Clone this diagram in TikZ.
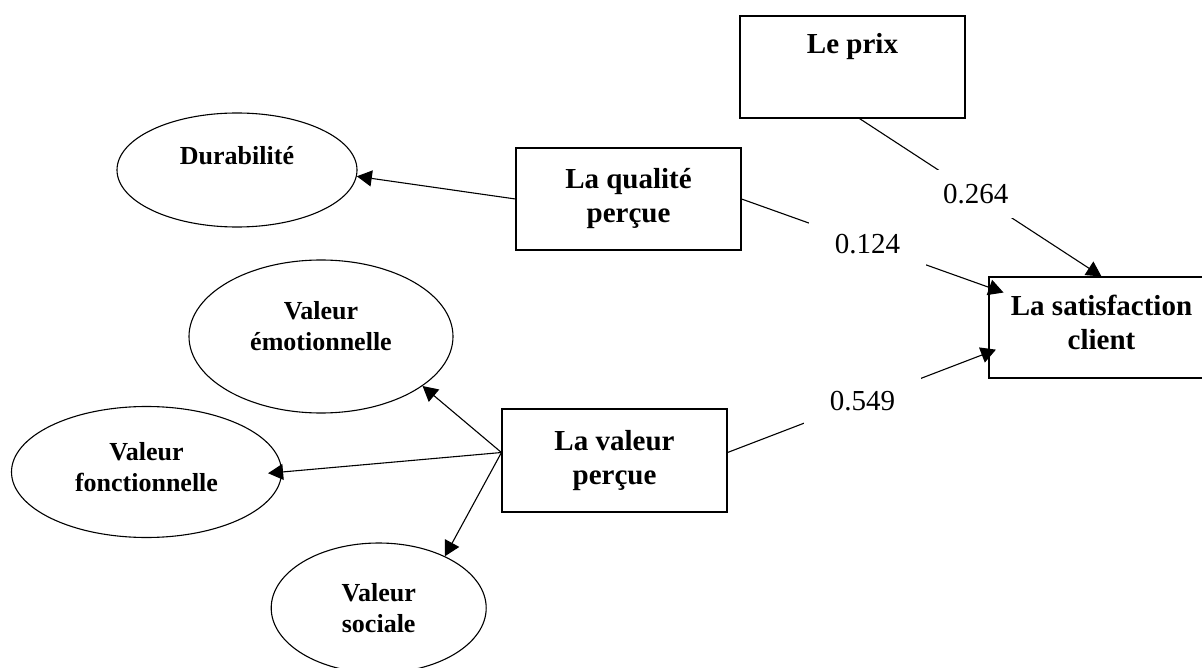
\documentclass[tikz,border=0pt]{standalone}
\usepackage{fontspec}
\setmainfont{Liberation Serif}
\usetikzlibrary{arrows.meta,shapes.geometric}

\begin{document}
\begin{tikzpicture}[x=1pt,y=-1pt,>={Triangle[length=15pt,width=16pt]},line width=1.1pt,
    box/.style={draw,rectangle,minimum width=225pt,minimum height=102pt,align=center,
      font=\bfseries\fontsize{29}{34}\selectfont},
    oval/.style={draw,ellipse,inner sep=0pt,align=center,
      font=\bfseries\fontsize{26}{31}\selectfont},
    weight/.style={fill=white,inner xsep=26pt,inner ysep=14pt,
      font=\fontsize{29}{34}\selectfont}]
      \useasboundingbox (0,0) rectangle (1202,668);
      \clip (0,0) rectangle (1202,668);

      \node[box,text height=20pt,text depth=46pt] (prix) at (852.5,67) {Le prix};
      \node[box] (qual) at (628.5,199) {La qualité\\perçue};
      \node[box,minimum height=103pt] (val) at (614.5,460.5) {La valeur\\perçue};
      \node[box,minimum height=101pt,text depth=10pt] (sat) at (1101.5,327.5) {La satisfaction\\client};

      \node[oval,minimum width=240pt,minimum height=114pt,text height=18pt,text depth=28pt] (dur) at (237,170) {Durabilité};
      \node[oval,minimum width=264pt,minimum height=153pt,text depth=22pt] (emo) at (321,336.5) {Valeur\\émotionnelle};
      \node[oval,minimum width=270pt,minimum height=131pt,text depth=10pt] (fon) at (146.5,472) {Valeur\\fonctionnelle};
      \node[oval,minimum width=215pt,minimum height=130pt] (soc) at (378.7,608) {Valeur\\sociale};

      \coordinate (hub) at ([yshift=8pt]val.west);

      \path[->]
      (qual.west) edge (dur.-3)

      (hub) edge (emo.-26)
      (hub) edge [shorten >=-14pt] (fon.east)
      (hub) edge (soc.38)

      ([xshift=7pt]prix.south) edge node[weight,pos=.48] {0.264} (sat.north)
      (qual.east) edge [shorten >=-16pt] node[weight,pos=.51] {0.124} (sat)
      ([yshift=8pt]val.east) edge [shorten >=-8pt] node[weight,pos=.517] {0.549} ([yshift=-25pt]sat.west)
      ;
\end{tikzpicture}
\end{document}
